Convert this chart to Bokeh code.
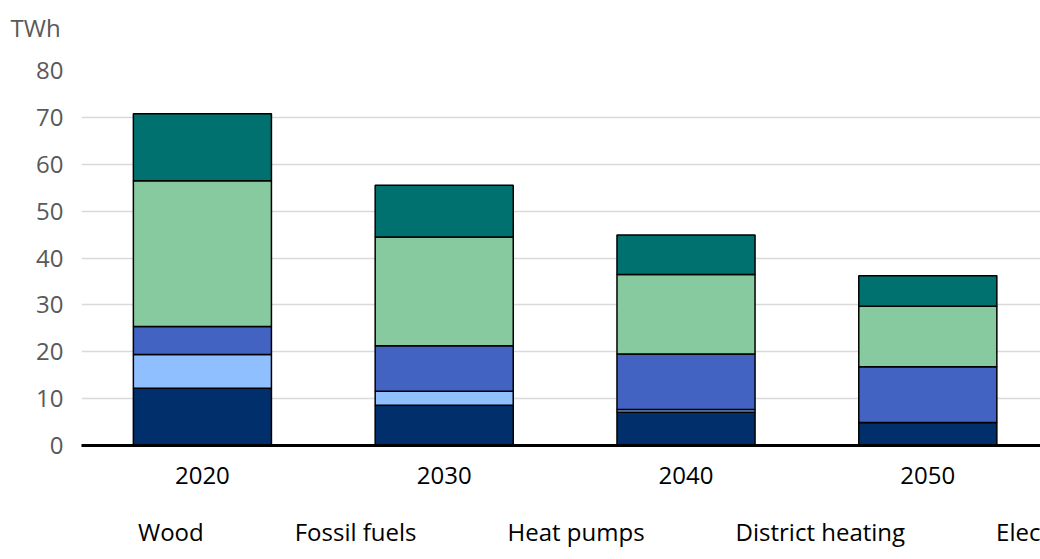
from bokeh.plotting import figure
from bokeh.layouts import column
from bokeh.models import ColumnDataSource, Range1d, FixedTicker, Legend, LegendItem
from bokeh.embed import file_html
from bokeh.resources import INLINE

years = ["2020", "2030", "2040", "2050"]
series = ["Wood", "Fossil fuels", "Heat pumps", "District heating", "Electricity"]
wood = [12.2, 8.6, 7.1, 4.9]
fossil = [7.2, 3.0, 0.6, 0.0]
heat_pumps = [6.0, 9.7, 11.8, 11.9]
district = [31.1, 23.2, 17.0, 12.9]
electricity = [14.3, 11.0, 8.4, 6.5]
colors = ["#002F6C", "#8FBFFF", "#4263C2", "#88CAA0", "#00716F"]
y_ticks = [0, 10, 20, 30, 40, 50, 60, 70, 80]

FONT = "Open Sans"
keys = ["wood", "fossil", "heat", "district", "elec"]
xs = list(range(len(years)))
src = ColumnDataSource(dict(x=xs, wood=wood, fossil=fossil, heat=heat_pumps,
                            district=district, elec=electricity))

p = figure(frame_width=959, frame_height=375, output_backend="svg", toolbar_location=None,
           x_range=Range1d(-0.5, 3.466), y_range=Range1d(0, 80),
           min_border_left=81, min_border_right=0, min_border_top=70, min_border_bottom=0,
           title="TWh\n ")

p.title.text_font = FONT
p.title.text_font_size = "24px"
p.title.text_font_style = "normal"
p.title.text_color = "#595959"
p.title.align = "left"
p.title.offset = -71
p.title.standoff = 0
p.title.text_line_height = 0.8

p.vbar_stack(keys, x="x", width=0.571, source=src, color=colors,
             line_color="#000000", line_width=1.5)

p.outline_line_color = None
p.xgrid.grid_line_color = None
p.ygrid.grid_line_color = "#D9D9D9"
p.ygrid.grid_line_width = 1.5

p.yaxis.ticker = FixedTicker(ticks=y_ticks)
p.yaxis.axis_line_color = None
p.yaxis.major_tick_line_color = None
p.yaxis.minor_tick_line_color = None
p.yaxis.major_label_text_font = FONT
p.yaxis.major_label_text_font_size = "24px"
p.yaxis.major_label_text_color = "#595959"
p.yaxis.major_label_standoff = 12

p.xaxis.ticker = FixedTicker(ticks=xs)
p.xaxis.major_label_overrides = {i: y for i, y in zip(xs, years)}
p.xaxis.axis_line_color = "#000000"
p.xaxis.axis_line_width = 3
p.xaxis.major_tick_line_color = None
p.xaxis.minor_tick_line_color = None
p.xaxis.major_label_text_font = FONT
p.xaxis.major_label_text_font_size = "24px"
p.xaxis.major_label_text_color = "#000000"
p.xaxis.major_label_standoff = 15

# separate strip that carries the legend below the chart
leg = figure(width=1040, height=62, output_backend="svg", toolbar_location=None,
             x_range=Range1d(0, 1), y_range=Range1d(0, 1),
             x_axis_location=None, y_axis_location=None, min_border=0)
leg.outline_line_color = None
leg.xgrid.grid_line_color = None
leg.ygrid.grid_line_color = None

items = []
for name, c in zip(series, colors):
    r = leg.vbar(x=[], top=[], width=0.5, fill_color=c, line_color="#000000", line_width=1.5)
    items.append(LegendItem(label=name, renderers=[r]))

legend = Legend(items=items, orientation="horizontal", location=(25, 0),
                label_text_font=FONT, label_text_font_size="24px", label_text_color="#000000",
                glyph_width=22, glyph_height=26, label_standoff=10, spacing=59,
                border_line_color=None, background_fill_alpha=0, margin=0, padding=0)
leg.add_layout(legend, "center")

layout = column(p, leg, spacing=0)
open("out.html", "w").write(file_html(layout, INLINE))
